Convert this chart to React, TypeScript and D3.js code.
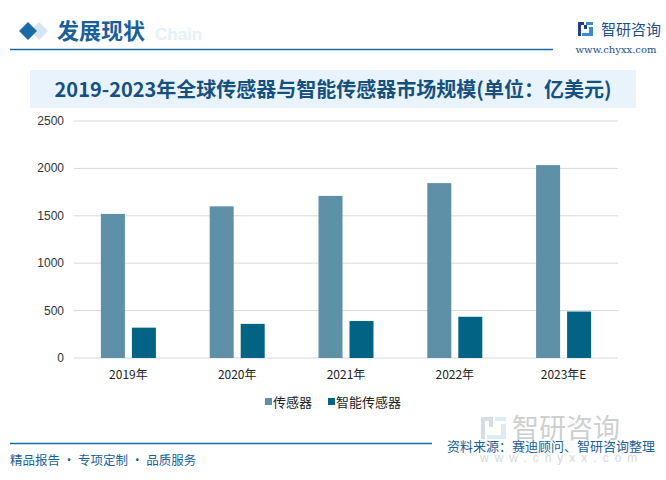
import React from "react";
import * as d3 from "d3";

const categories = ["2019年", "2020年", "2021年", "2022年", "2023年E"];
const sensorValues = [1520, 1600, 1710, 1845, 2035];
const smartSensorValues = [320, 360, 390, 435, 490];
const yTicks = [0, 500, 1000, 1500, 2000, 2500];
const seriesNames = ["传感器", "智能传感器"];
const seriesColors = ["#5e90a8", "#036384"];

const W = 666;
const H = 480;
const plot = { left: 74, right: 618, top: 121, bottom: 358 };

export default function App() {
  const x = d3.scaleBand<string>().domain(categories).range([plot.left, plot.right]);
  const y = d3.scaleLinear().domain([0, 2500]).range([plot.bottom, plot.top]);
  const barW = 24;
  const gap = 7;
  const series = [sensorValues, smartSensorValues];
  const font = "'Liberation Sans', Arial, sans-serif";
  const cjk = "'Noto Sans CJK SC', sans-serif";

  return (
    <svg width={W} height={H} style={{ position: "absolute", left: 0, top: 0, background: "#fff" }}>
      <rect x={0} y={0} width={W} height={H} fill="#fff" />
      {/* Header */}
      <path d="M30 22 L39 31 L30 40 L21 31 Z" fill="#d6e6f0" transform="translate(9,0)" />
      <path d="M28 22 L37 31 L28 40 L19 31 Z" fill="#1a6aa6" />
      <text x={155} y={40} fontFamily={font} fontWeight="bold" fontSize={17} fill="#e3f1fb">Chain</text>
      <text x={57} y={39} fontFamily={cjk} fontWeight="bold" fontSize={22} fill="#1a5f9a">发展现状</text>
      <line x1={10} x2={553} y1={49.5} y2={49.5} stroke="#1a6aa6" strokeWidth={1.5} />
      {/* Logo top right */}
      <g>
        <rect x={578} y={22} width={6} height={3} fill="#1f3f86" />
        <rect x={578} y={25} width={3} height={11} fill="#1f3f86" />
        <rect x={584} y={25} width={3} height={4} fill="#1f3f86" />
        <rect x={586} y={22} width={7} height={3} fill="#3d8ad0" />
        <rect x={589} y={27} width={4} height={7} fill="#3d8ad0" />
        <rect x={582} y={33} width={11} height={3} fill="#3d8ad0" />
      </g>
      <text x={601} y={35} fontFamily={cjk} fontSize={15} fill="#1a4f8a">智研咨询</text>
      <text x={616} y={53} textAnchor="middle" fontFamily="'DejaVu Serif', serif" fontSize={10} fill="#1a4f8a">www.chyxx.com</text>

      {/* Title box */}
      <rect x={30} y={70} width={606} height={38} fill="#e8f3fb" />
      <text x={333} y={97} textAnchor="middle" fontFamily="'Noto Sans CJK SC', serif" fontWeight="bold" fontSize={20} fill="#16507f">
        2019-2023年全球传感器与智能传感器市场规模(单位：亿美元)
      </text>

      {/* Grid and y axis */}
      {yTicks.map((t) => (
        <g key={t}>
          <line x1={plot.left} x2={plot.right} y1={y(t)} y2={y(t)} stroke="#d9d9d9" strokeWidth={1} />
          <text x={64} y={y(t) + 4} textAnchor="end" fontFamily={font} fontSize={12} fill="#333">{t}</text>
        </g>
      ))}

      {/* Bars */}
      {categories.map((c, i) => {
        const cx = (x(c) as number) + x.bandwidth() / 2;
        return (
          <g key={c}>
            {series.map((vals, s) => {
              const bx = s === 0 ? cx - gap / 2 - barW : cx + gap / 2;
              return (
                <rect key={s} x={bx} y={y(vals[i])} width={barW} height={y(0) - y(vals[i])} fill={seriesColors[s]} />
              );
            })}
            <text x={cx} y={379} textAnchor="middle" fontFamily={cjk} fontSize={12} fill="#222">{c}</text>
          </g>
        );
      })}

      {/* Legend */}
      <rect x={265} y={398} width={7} height={7} fill={seriesColors[0]} />
      <text x={273} y={407} fontFamily={cjk} fontSize={13} fill="#222">{seriesNames[0]}</text>
      <rect x={328} y={398} width={7} height={7} fill={seriesColors[1]} />
      <text x={336} y={407} fontFamily={cjk} fontSize={13} fill="#222">{seriesNames[1]}</text>

      {/* Watermark bottom right */}
      <g opacity={0.35}>
        <rect x={481} y={417} width={12} height={4} fill="#8fa0c0" />
        <rect x={481} y={421} width={4} height={18} fill="#8fa0c0" />
        <rect x={489} y={421} width={4} height={6} fill="#8fa0c0" />
        <rect x={495} y={417} width={11} height={4} fill="#a8c4e0" />
        <rect x={501} y={424} width={5} height={11} fill="#a8c4e0" />
        <rect x={487} y={435} width={19} height={4} fill="#a8c4e0" />
      </g>
      <text x={512} y={438} fontFamily={cjk} fontSize={27} fill="#bcbcbc" opacity={0.7}>智研咨询</text>
      <text x={480} y={462} fontFamily={font} fontSize={12} letterSpacing={6} fill="#d8d8d8">www.chyxx.com</text>

      {/* Footer */}
      <line x1={10} x2={432} y1={443.5} y2={443.5} stroke="#1a6aa6" strokeWidth={1.5} />
      <text x={655} y={451} textAnchor="end" fontFamily={cjk} fontSize={13} fill="#1a5f9a">资料来源：赛迪顾问、智研咨询整理</text>
      <text x={10} y={465} fontFamily={cjk} fontSize={12.5} fill="#1a5f9a">精品报告 · 专项定制 · 品质服务</text>
    </svg>
  );
}
